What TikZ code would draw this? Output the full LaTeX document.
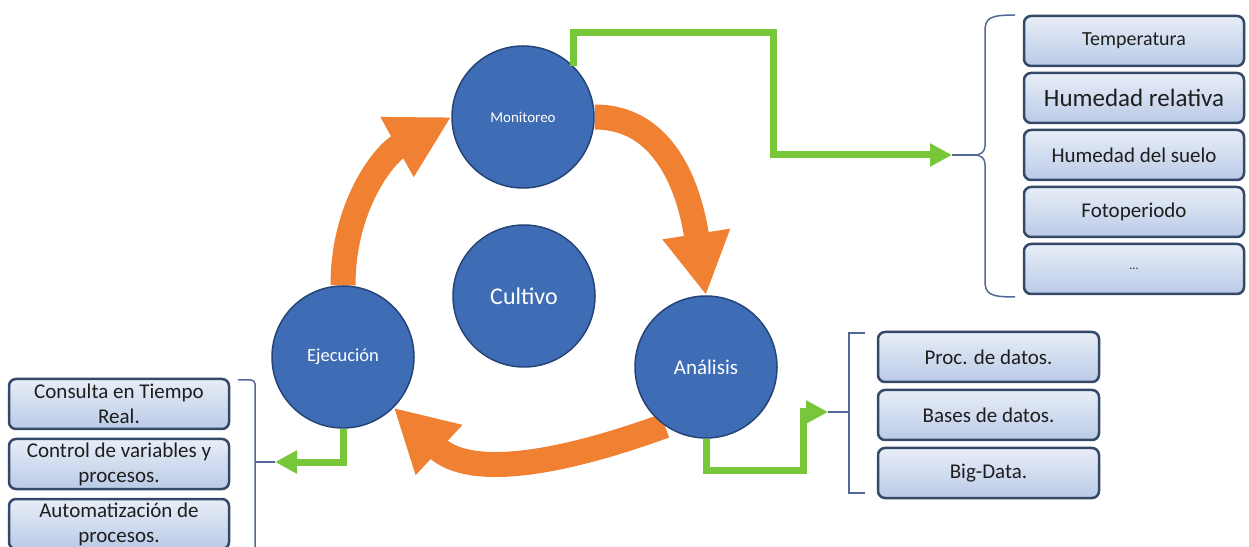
\documentclass[tikz,border=0pt]{standalone}
\usepackage{fontspec}
\setmainfont{Carlito}
\usetikzlibrary{positioning,arrows.meta,backgrounds}

\definecolor{cycblue}{RGB}{62,108,181}
\definecolor{cycline}{RGB}{38,68,118}
\definecolor{cycorange}{RGB}{240,128,50}
\definecolor{feedgreen}{RGB}{120,198,58}
\definecolor{boxtop}{RGB}{232,238,248}
\definecolor{boxbot}{RGB}{186,202,230}
\definecolor{boxline}{RGB}{52,72,104}
\definecolor{boxtext}{RGB}{30,30,30}
\definecolor{brackblue}{RGB}{84,104,152}

\begin{document}
\begin{tikzpicture}[x=1pt,y=1pt]
                        \tikzstyle{every node}=[inner sep=0]
                        \tikzstyle{phase}=[circle,fill=cycblue,draw=cycline,line width=1.5,minimum size=142,text=white]
                        \tikzstyle{item}=[rectangle,rounded corners=7,draw=boxline,line width=2.5,top color=boxtop,bottom color=boxbot,minimum width=220,minimum height=50,align=center,text=boxtext,font=\fontsize{21}{25}\selectfont]
                        \tikzstyle{cycle}=[draw=cycorange,line width=25,-{Triangle[width=64pt,length=62pt]}]
                        \tikzstyle{feed}=[draw=feedgreen,line width=7,-{Triangle[width=22pt,length=22pt]}]
                        \tikzstyle{brack}=[draw=brackblue,line width=1.5]
                        {
                            \useasboundingbox (0,0) rectangle (1249,546);

                            \node[phase,font=\fontsize{15}{18}\selectfont] (mon) at (523,429) {Monitoreo};
                            \node[phase,font=\fontsize{24}{28}\selectfont] (cul) at (524,250) {Cultivo};
                            \node[phase,font=\fontsize{21}{24}\selectfont] (ana) at (706,179) {Análisis};
                            \node[phase,font=\fontsize{18.5}{22}\selectfont] (eje) at (343,189) {Ejecución};

                            \begin{scope}[on background layer]
                                \draw[cycle] (eje.north) to[out=90,in=209] (mon.west);
                                \draw[cycle] (mon.east) to[out=0,in=99] (ana.north);
                                \draw[cycle] (ana.235) to[out=200,in=-43] (eje.-45);
                            \end{scope}

                            \node[item,font=\fontsize{20}{24}\selectfont,node distance=57] (temp) at (1134,505) {Temperatura};
                            \node[item,font=\fontsize{25}{28}\selectfont,node distance=57] (hrel) [below of=temp] {Humedad relativa};
                            \node[item,node distance=57] (hsue) [below of=hrel] {Humedad del suelo};
                            \node[item,node distance=57] (foto) [below of=hsue] {Fotoperiodo};
                            \node[item,node distance=57] (more) [below of=foto] {\fontsize{12}{14}\selectfont ...};

                            \node[item,minimum width=221,node distance=58] (proc) at (988.5,189) {Proc. de datos.};
                            \node[item,minimum width=221,node distance=58] (bases) [below of=proc] {Bases de datos.};
                            \node[item,minimum width=221,node distance=58] (big) [below of=bases] {Big-Data.};

                            \node[item,node distance=60] (cons) at (119,142) {Consulta en Tiempo\\Real.};
                            \node[item,node distance=60] (ctrl) [below of=cons] {Control de variables y\\procesos.};
                            \node[item,node distance=60] (auto) [below of=ctrl] {Automatización de\\procesos.};

                            \coordinate (mtip) at (952,391);
                            \coordinate (atip) at (828,134);
                            \coordinate (etip) at (275,84);

                            \draw[feed] (mon.45) |- (773,513) |- (mtip);
                            \draw[feed] (ana.south) |- (803,76) |- (atip);
                            \draw[feed] (eje.south) |- (etip);

                            \draw[brack] (mtip) -- (975,391);
                            \draw[brack] (1015,531) .. controls (990,531) and (985,528) .. (985,515) -- (985,400)
                                .. controls (985,394) and (980,391) .. (975,391)
                                .. controls (980,391) and (985,388) .. (985,382) -- (985,265)
                                .. controls (985,252) and (990,249) .. (1015,249);
                            \draw[brack] (atip) -- (849,134);
                            \draw[brack] (865,213) -- (849,213) -- (849,53) -- (865,53);
                            \draw[brack] (etip) -- (255,84);
                            \draw[brack,rounded corners=4] (238,166) -- (255,166) -- (255,-10);
                        }
                    \end{tikzpicture}
\end{document}
